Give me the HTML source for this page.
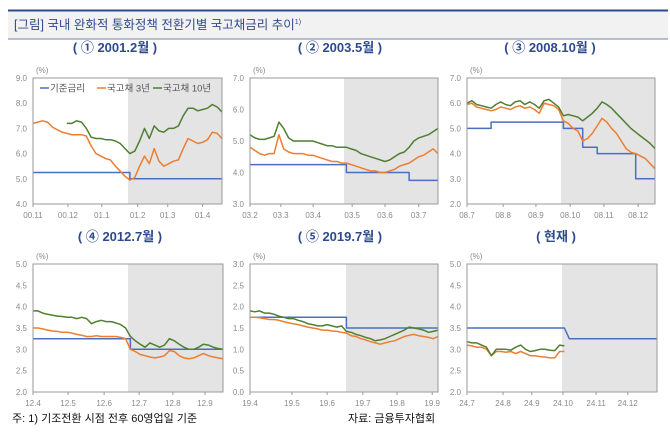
<!DOCTYPE html>
<html><head><meta charset="utf-8">
<style>
body{margin:0;background:#fff;}
svg{display:block;font-family:"Liberation Sans","Noto Sans CJK KR",sans-serif;}
.tk{font-size:8px;fill:#8a8a8a;}
.pt{font-size:13px;fill:#2e4a8e;font-weight:bold;}
</style></head>
<body>
<svg id="c" width="670" height="440" viewBox="0 0 670 440">
<rect x="0" y="0" width="670" height="440" fill="#fff"/>
<rect x="8" y="10" width="660" height="29" fill="#f2f2f2"/>
<line x1="8" y1="10.5" x2="668" y2="10.5" stroke="#2f4b8f" stroke-width="2"/>
<line x1="8" y1="39" x2="668" y2="39" stroke="#7080b0" stroke-width="1"/>
<text x="14" y="29" font-size="12.5" fill="#2e4a8e">[그림] 국내 완화적 통화정책 전환기별 국고채금리 추이<tspan dy="-5" font-size="7">1)</tspan></text>
<text x="12" y="422" font-size="11" fill="#111">주: 1) 기조전환 시점 전후 60영업일 기준</text>
<text x="348" y="422" font-size="11" fill="#111">자료: 금융투자협회</text>
<g id="panels"></g>
</svg>
<script>
// ---- data ----
const p1Ticks=["00.11","00.12","01.1","01.2","01.3","01.4"];
const p1TickIdx=[0,7.2,14.2,21.6,27.8,35];
const p1Base=[5.25,5.25,5.25,5.25,5.25,5.25,5.25,5.25,5.25,5.25,5.25,5.25,5.25,5.25,5.25,5.25,5.25,5.25,5.25,5.25,5,5,5,5,5,5,5,5,5,5,5,5,5,5,5,5,5,5,5,5];
const p1Y3=[7.2,7.25,7.3,7.25,7.05,6.95,6.85,6.8,6.75,6.75,6.75,6.7,6.3,6.0,5.9,5.8,5.75,5.5,5.3,5.1,4.95,5.05,5.5,5.9,5.6,6.2,5.7,5.5,5.6,5.7,5.75,6.2,6.6,6.5,6.4,6.45,6.55,6.85,6.8,6.6];
const p1Y10=[null,null,null,null,null,null,null,7.2,7.2,7.3,7.25,7.0,6.65,6.6,6.6,6.55,6.55,6.5,6.4,6.2,6.0,6.1,6.5,7.0,6.6,7.1,6.9,6.85,7.0,7.0,7.1,7.5,7.8,7.8,7.7,7.75,7.8,7.95,7.85,7.65];

const p2Ticks=["03.2","03.3","03.4","03.5","03.6","03.7"];
const p2TickIdx=[0,6.4,13.1,21.2,28,35];
const p2Base=[4.25,4.25,4.25,4.25,4.25,4.25,4.25,4.25,4.25,4.25,4.25,4.25,4.25,4.25,4.25,4.25,4.25,4.25,4.25,4.25,4,4,4,4,4,4,4,4,4,4,4,4,4,3.75,3.75,3.75,3.75,3.75,3.75,3.75];
const p2Y3=[4.8,4.7,4.6,4.55,4.6,4.6,5.2,4.75,4.65,4.6,4.6,4.6,4.55,4.55,4.5,4.45,4.4,4.35,4.35,4.3,4.3,4.25,4.2,4.15,4.1,4.05,4.05,4.0,4.0,4.05,4.1,4.2,4.25,4.3,4.4,4.5,4.55,4.65,4.75,4.6];
const p2Y10=[5.2,5.1,5.05,5.05,5.1,5.15,5.6,5.4,5.1,5.0,5.0,5.0,5.0,5.0,4.95,4.9,4.85,4.85,4.8,4.8,4.8,4.75,4.7,4.6,4.55,4.5,4.45,4.4,4.35,4.4,4.5,4.6,4.65,4.8,5.0,5.1,5.15,5.2,5.3,5.4];

const p3Ticks=["08.7","08.8","08.9","08.10","08.11","08.12"];
const p3TickIdx=[0,7.5,14.3,21.4,28.4,35.5];
const p3Base=[5,5,5,5,5,5.25,5.25,5.25,5.25,5.25,5.25,5.25,5.25,5.25,5.25,5.25,5.25,5.25,5.25,5.25,5,5,5,5,4.25,4.25,4.25,4,4,4,4,4,4,4,4,3,3,3,3,3];
const p3Y3=[5.95,6.0,5.85,5.8,5.75,5.7,5.75,5.85,5.8,5.75,5.85,5.9,5.8,5.85,5.75,5.6,6.0,5.95,5.9,5.75,5.3,5.2,5.0,4.9,4.5,4.6,4.8,5.1,5.4,5.25,5.0,4.8,4.5,4.2,4.05,4.0,3.9,3.8,3.6,3.4];
const p3Y10=[6.0,6.1,5.95,5.9,5.85,5.8,5.95,6.05,5.95,5.9,6.05,6.1,5.95,6.05,5.95,5.8,6.1,6.15,6.0,5.85,5.5,5.55,5.5,5.45,5.3,5.45,5.6,5.8,6.05,5.95,5.8,5.6,5.4,5.2,5.0,4.85,4.7,4.55,4.4,4.2];

const p4Ticks=["12.4","12.5","12.6","12.7","12.8","12.9"];
const p4TickIdx=[0,7.2,14.6,21.8,28.7,35.3];
const p4Base=[3.25,3.25,3.25,3.25,3.25,3.25,3.25,3.25,3.25,3.25,3.25,3.25,3.25,3.25,3.25,3.25,3.25,3.25,3.25,3.25,3,3,3,3,3,3,3,3,3,3,3,3,3,3,3,3,3,3,3,3];
const p4Y3=[3.5,3.5,3.48,3.45,3.43,3.42,3.4,3.4,3.38,3.35,3.33,3.3,3.3,3.32,3.3,3.3,3.3,3.3,3.28,3.25,3.0,2.95,2.88,2.85,2.82,2.8,2.82,2.85,2.97,2.95,2.85,2.8,2.78,2.8,2.85,2.9,2.85,2.82,2.8,2.78];
const p4Y10=[3.9,3.9,3.85,3.82,3.8,3.78,3.77,3.75,3.75,3.72,3.75,3.72,3.6,3.65,3.68,3.65,3.65,3.62,3.58,3.5,3.3,3.2,3.12,3.05,3.15,3.1,3.05,3.1,3.25,3.2,3.12,3.05,3.0,3.0,3.05,3.12,3.1,3.05,3.02,3.0];

const p5Ticks=["19.4","19.5","19.6","19.7","19.8","19.9"];
const p5TickIdx=[0,8.7,16,23.4,30.5,37.8];
const p5Base=[1.75,1.75,1.75,1.75,1.75,1.75,1.75,1.75,1.75,1.75,1.75,1.75,1.75,1.75,1.75,1.75,1.75,1.75,1.75,1.75,1.5,1.5,1.5,1.5,1.5,1.5,1.5,1.5,1.5,1.5,1.5,1.5,1.5,1.5,1.5,1.5,1.5,1.5,1.5,1.5];
const p5Y3=[1.75,1.75,1.74,1.72,1.7,1.7,1.68,1.65,1.62,1.6,1.58,1.55,1.52,1.5,1.48,1.45,1.45,1.43,1.42,1.4,1.38,1.32,1.3,1.25,1.22,1.18,1.15,1.12,1.15,1.18,1.2,1.25,1.3,1.33,1.35,1.32,1.3,1.28,1.25,1.3];
const p5Y10=[1.9,1.88,1.9,1.85,1.85,1.82,1.78,1.75,1.72,1.72,1.68,1.65,1.6,1.58,1.55,1.55,1.58,1.55,1.52,1.55,1.42,1.4,1.35,1.32,1.28,1.25,1.2,1.22,1.25,1.3,1.35,1.4,1.45,1.52,1.5,1.48,1.45,1.4,1.42,1.45];

const p6Ticks=["24.7","24.8","24.9","24.10","24.11","24.12"];
const p6TickIdx=[0,7.4,13.3,19.7,26.5,33];
const p6Base=[3.5,3.5,3.5,3.5,3.5,3.5,3.5,3.5,3.5,3.5,3.5,3.5,3.5,3.5,3.5,3.5,3.5,3.5,3.5,3.5,3.5,3.25,3.25,3.25,3.25,3.25,3.25,3.25,3.25,3.25,3.25,3.25,3.25,3.25,3.25,3.25,3.25,3.25,3.25,3.25];
const p6Y3=[3.1,3.08,3.05,3.05,3.0,2.85,2.95,2.95,2.93,2.95,2.9,2.95,2.9,2.85,2.85,2.83,2.82,2.8,2.8,2.95,2.95];
const p6Y10=[3.18,3.15,3.15,3.1,3.05,2.85,3.0,3.0,3.0,2.98,3.05,3.1,3.0,2.95,2.97,3.0,3.0,2.98,2.97,3.1,3.08];

const NS="http://www.w3.org/2000/svg";
const root=document.getElementById('panels');
function mk(tag,attrs,parent){const e=document.createElementNS(NS,tag);for(const k in attrs)e.setAttribute(k,attrs[k]);(parent||root).appendChild(e);return e;}

const panels=[
 {id:'p1',title:'( ① 2001.2월 )',tx:115,ty:52,L:33,R:222,T:78,B:204,ymin:4,ymax:9,ystep:1,shade:19.6,ticks:p1Ticks,tidx:p1TickIdx,base:p1Base,y3:p1Y3,y10:p1Y10,step:true,legend:true},
 {id:'p2',title:'( ② 2003.5월 )',tx:340,ty:52,L:250,R:438,T:78,B:204,ymin:3,ymax:7,ystep:1,shade:19.5,ticks:p2Ticks,tidx:p2TickIdx,base:p2Base,y3:p2Y3,y10:p2Y10,step:true},
 {id:'p3',title:'( ③ 2008.10월 )',tx:550,ty:52,L:467,R:655,T:78,B:204,ymin:2,ymax:7,ystep:1,shade:19.5,ticks:p3Ticks,tidx:p3TickIdx,base:p3Base,y3:p3Y3,y10:p3Y10,step:true},
 {id:'p4',title:'( ④ 2012.7월 )',tx:120,ty:241,L:33,R:223,T:264,B:392,ymin:2,ymax:5,ystep:0.5,shade:19.5,ticks:p4Ticks,tidx:p4TickIdx,base:p4Base,y3:p4Y3,y10:p4Y10,step:true},
 {id:'p5',title:'( ⑤ 2019.7월 )',tx:340,ty:241,L:250,R:438,T:264,B:392,ymin:0,ymax:3,ystep:0.5,shade:19.9,ticks:p5Ticks,tidx:p5TickIdx,base:p5Base,y3:p5Y3,y10:p5Y10,step:true},
 {id:'p6',title:'( 현재 )',tx:556,ty:241,L:467,R:657,T:264,B:392,ymin:2,ymax:5,ystep:0.5,shade:19.5,ticks:p6Ticks,tidx:p6TickIdx,base:p6Base,y3:p6Y3,y10:p6Y10,step:false}
];

panels.forEach(p=>{
  const g=mk('g',{});
  
  
  const N=40;
  const xs=i=>p.L+(p.R-p.L)*i/(N-1);
  const ys=v=>p.B-(v-p.ymin)/(p.ymax-p.ymin)*(p.B-p.T);
  const t=mk('text',{x:p.tx,y:p.ty,'text-anchor':'middle',class:'pt'},g);t.textContent=p.title;
  
  
  const sh=mk('rect',{x:xs(p.shade),y:p.T,width:p.R-xs(p.shade),height:p.B-p.T,fill:'#e4e4e4'},g);
  
  
  // y ticks
  for(let v=p.ymin;v<=p.ymax+1e-9;v+=p.ystep){
    const tt=mk('text',{x:p.L-6,y:ys(v)+3,'text-anchor':'end',class:'tk'},g);
    tt.textContent=v.toFixed(1);
    
    
  }
  const u=mk('text',{x:p.L+3,y:p.T-5,class:'tk',fill:'#444'},g);u.textContent='(%)';
  
  
  // x ticks
  p.ticks.forEach((lb,k)=>{
    const x=xs(p.tidx[k]);
    mk('line',{x1:x,y1:p.B,x2:x,y2:p.B+3,stroke:'#999'},g);
    const tt=mk('text',{x:x,y:p.B+14,'text-anchor':'middle',class:'tk'},g);tt.textContent=lb;
    
    
  });
  // series
  function line(arr,color,name,step){
    let d='',started=false,prev=null;
    arr.forEach((v,i)=>{
      if(v===null){started=false;return;}
      const x=xs(i),y=ys(v);
      if(!started){d+='M'+x.toFixed(1)+','+y.toFixed(1);started=true;}
      else{ if(step&&prev!==v) d+='L'+x.toFixed(1)+','+ys(prev).toFixed(1);
            d+='L'+x.toFixed(1)+','+y.toFixed(1);}
      prev=v;
    });
    const pa=mk('path',{d:d,fill:'none',stroke:color,'stroke-width':1.5,'stroke-linejoin':'round'},g);
    
    
  }
  line(p.base,'#4a6fc0','base-rate-line',p.step);
  line(p.y3,'#ed7d31','ktb-3y-line',false);
  line(p.y10,'#4f7f2f','ktb-10y-line',false);
  const fr=mk('rect',{x:p.L,y:p.T,width:p.R-p.L,height:p.B-p.T,fill:'none',stroke:'#9a9a9a','stroke-width':1},g);
  
  
  if(p.legend){
    const lg=mk('g',{},g);
    
    
    const items=[['기준금리','#4a6fc0',40],['국고채 3년','#ed7d31',97],['국고채 10년','#4f7f2f',153]];
    items.forEach(it=>{
      mk('line',{x1:it[2],y1:88,x2:it[2]+9,y2:88,stroke:it[1],'stroke-width':1.5},lg);
      const tt=mk('text',{x:it[2]+10,y:91.5,'font-size':'9.5',fill:'#555'},lg);tt.textContent=it[0];
      
      
    });
  }
});
</script>
</body></html>
